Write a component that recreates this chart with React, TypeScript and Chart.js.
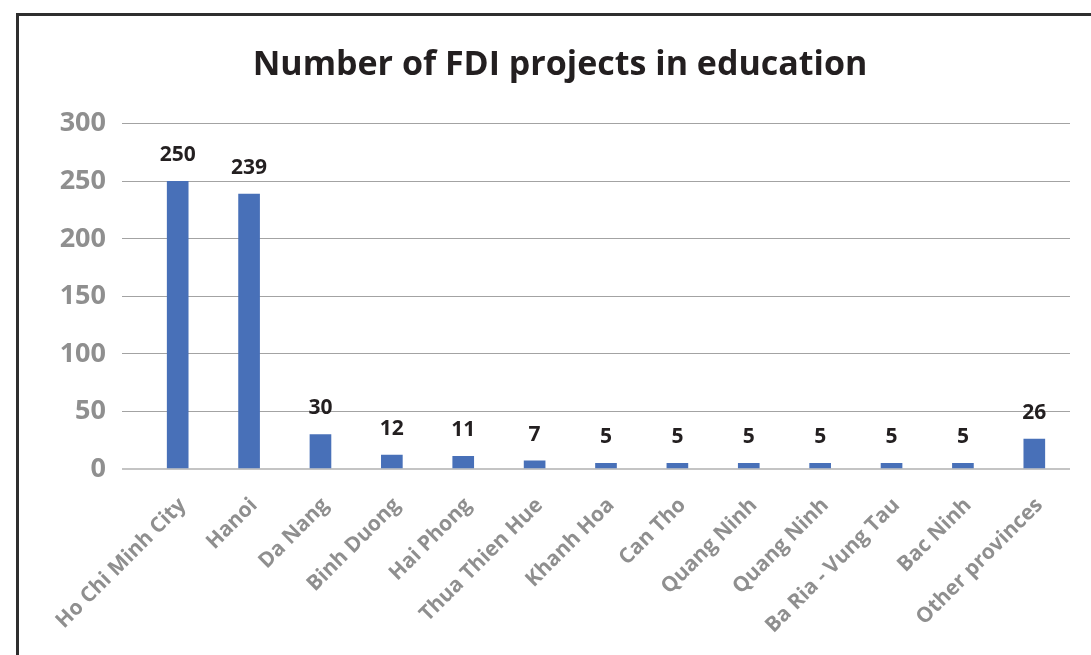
import React, { useEffect, useRef } from 'react';
import { Chart, registerables } from 'chart.js';

Chart.register(...registerables);

const categories = [
  'Ho Chi Minh City',
  'Hanoi',
  'Da Nang',
  'Binh Duong',
  'Hai Phong',
  'Thua Thien Hue',
  'Khanh Hoa',
  'Can Tho',
  'Quang Ninh',
  'Quang Ninh',
  'Ba Ria - Vung Tau',
  'Bac Ninh',
  'Other provinces',
];
const projectCounts = [250, 239, 30, 12, 11, 7, 5, 5, 5, 5, 5, 5, 26];
const yMin = 0;
const yMax = 300;
const yStep = 50;
const chartTitle = 'Number of FDI projects in education';

export default function App() {
  const ref = useRef<HTMLCanvasElement>(null);

  useEffect(() => {
    if (!ref.current) return;
    const valueLabels = {
      id: 'valueLabels',
      afterDatasetsDraw(chart: any) {
        const ctx = chart.ctx;
        const meta = chart.getDatasetMeta(0);
        ctx.save();
        ctx.font = '700 21px "Open Sans"';
        ctx.fillStyle = '#231f20';
        ctx.textAlign = 'center';
        ctx.textBaseline = 'alphabetic';
        meta.data.forEach((bar: any, i: number) => {
          ctx.fillText(String(projectCounts[i]), bar.x, bar.y - 20);
        });
        ctx.restore();
      },
    };

    const chart = new Chart(ref.current, {
      type: 'bar',
      data: {
        labels: categories,
        datasets: [
          {
            data: projectCounts,
            backgroundColor: '#4870b8',
            barThickness: 21,
          },
        ],
      },
      options: {
        animation: false,
        responsive: true,
        maintainAspectRatio: false,
        layout: { padding: { left: 31, right: 33, top: 0, bottom: 0 } },
        plugins: {
          legend: { display: false },
          tooltip: { enabled: false },
          title: {
            display: true,
            text: chartTitle,
            color: '#231f20',
            font: { family: 'Open Sans', size: 34, weight: 'bold' },
            padding: { top: 29, bottom: 38 },
          },
        },
        scales: {
          x: {
            grid: { display: false, drawTicks: false },
            border: { display: false },
            ticks: {
              color: '#8f8f8f',
              font: { family: 'Open Sans', size: 21, weight: 'bold' },
              maxRotation: 45,
              minRotation: 45,
              padding: 24,
              labelOffset: 5,
              autoSkip: false,
            },
            afterFit(scale: any) {
              scale.height = 187;
            },
          },
          y: {
            min: yMin,
            max: yMax,
            border: { display: false },
            grid: {
              color: (c: any) => (c.tick && c.tick.value === 0 ? '#c4c4c4' : '#a3a3a3'),
              lineWidth: (c: any) => (c.tick && c.tick.value === 0 ? 2 : 1),
              drawTicks: true,
              tickLength: 20,
            },
            ticks: {
              stepSize: yStep,
              color: '#8f8f8f',
              font: { family: 'Open Sans', size: 27, weight: 'bold' },
              padding: 16,
            },
            afterFit(scale: any) {
              scale.width = 92;
            },
          },
        },
      },
      plugins: [valueLabels],
    });
    return () => chart.destroy();
  }, []);

  return (
    <div style={{ position: 'fixed', inset: 0, overflow: 'hidden', background: '#fff' }}>
      <div
        style={{
          position: 'absolute',
          left: 16,
          top: 13,
          width: 1120,
          height: 700,
          border: '3px solid #2e2e2e',
          boxSizing: 'border-box',
        }}
      >
        <div style={{ position: 'relative', width: 1084, height: 640 }}>
          <canvas ref={ref} />
        </div>
      </div>
    </div>
  );
}
